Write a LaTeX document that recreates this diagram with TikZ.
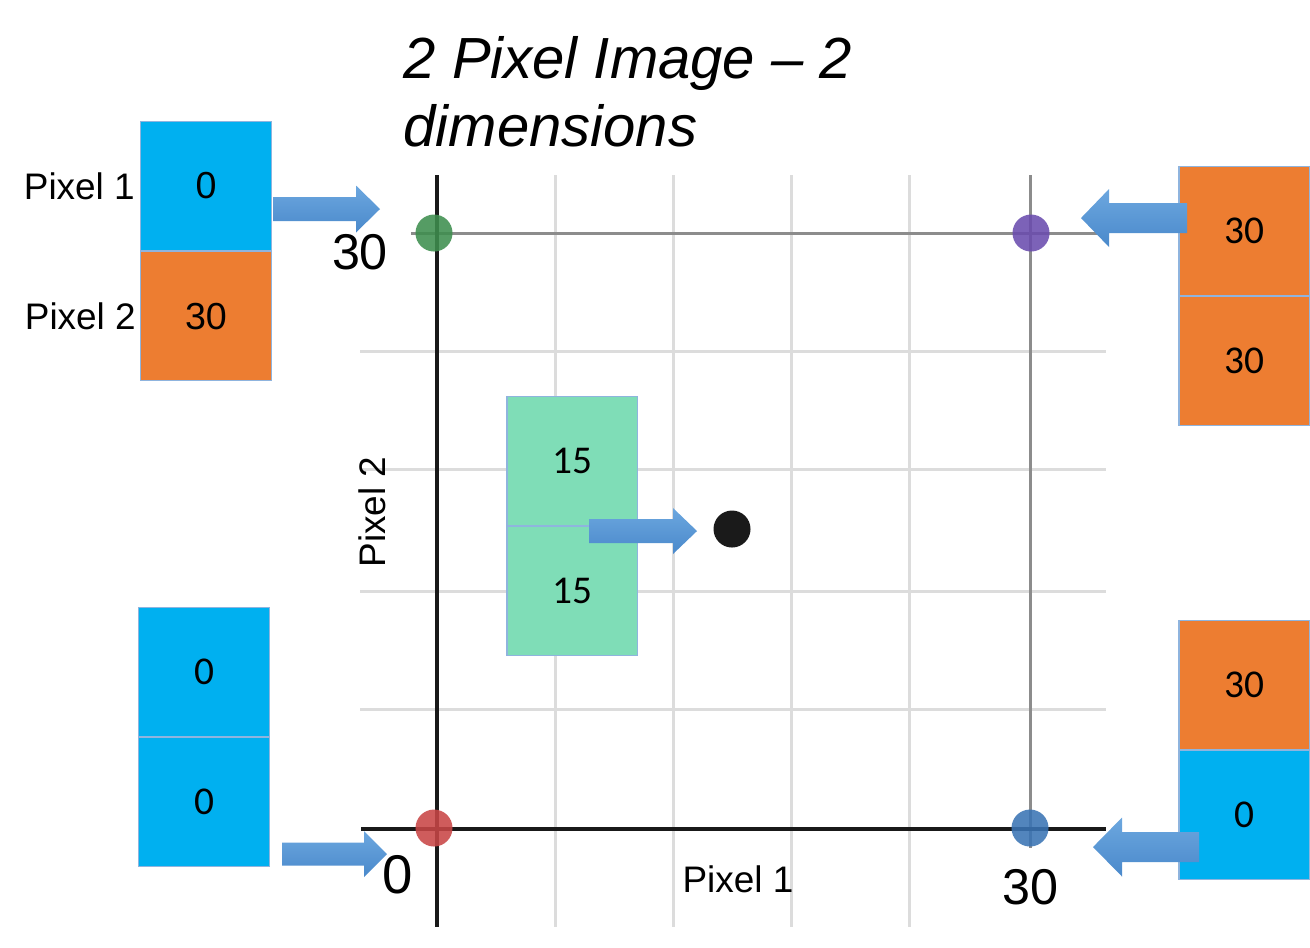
\documentclass[tikz,border=0pt]{standalone}
\usepackage{fontspec}
\setmainfont{Liberation Sans}
\newfontfamily\calibri{Carlito}
\usepackage{tikz}
\usetikzlibrary{positioning}
\definecolor{pxblue}{RGB}{0,176,240}
\definecolor{pxorange}{RGB}{237,125,49}
\definecolor{pxgreen}{RGB}{127,221,183}
\definecolor{boxedge}{RGB}{143,180,222}
\definecolor{arrowtop}{RGB}{108,167,223}
\definecolor{arrowbot}{RGB}{74,137,203}
\definecolor{dotgreen}{RGB}{62,142,78}
\definecolor{dotpurple}{RGB}{106,76,174}
\definecolor{dotred}{RGB}{200,70,70}
\definecolor{dotblue}{RGB}{58,116,180}
\definecolor{dotblack}{RGB}{26,26,26}
\definecolor{gridlight}{RGB}{220,220,220}
\definecolor{griddark}{RGB}{140,140,140}

\tikzset{
  pixbox/.style={draw=boxedge, line width=0.3pt, minimum width=1.3cm, minimum height=1.29cm,
    inner sep=0pt, font=\calibri\fontsize{11.2}{13}\selectfont},
  arialbox/.style={pixbox, font=\fontsize{10.7}{12}\selectfont},
  ptdot/.style={circle, minimum size=0.37cm, inner sep=0pt, opacity=0.88},
  sidelabel/.style={inner sep=0pt, font=\fontsize{10.5}{12}\selectfont},
  bigtick/.style={inner sep=0pt, font=\fontsize{14.3}{16}\selectfont},
  lightline/.style={gridlight, line width=0.85pt},
  darkline/.style={griddark, line width=0.85pt},
  axisline/.style={black!90, line width=1.4pt}
}

% #1 tail x, #2 tip x, #3 mid y, #4 shaft half width, #5 head half width, #6 head base x
\newcommand{\fatarrow}[6]{%
  \shade[top color=arrowtop, bottom color=arrowbot]
    (#1,#3-#4) -- (#6,#3-#4) -- (#6,#3-#5) -- (#2,#3) -- (#6,#3+#5) -- (#6,#3+#4) -- (#1,#3+#4) -- cycle;}

\begin{document}
\begin{tikzpicture}[x=0.01cm, y=-0.01cm]
    % Canvas, in pixels of the slide
    \useasboundingbox (0,0) rectangle (1310,947);

    % Title
    \node[anchor=north west, inner sep=0pt, align=left, font=\itshape\fontsize{16.5}{19.2}\selectfont]
        (title) at (403,36) {2 Pixel Image – 2\\dimensions};

    % Light grid
    \foreach \x in {555,673,791,909} \draw[lightline] (\x,175) -- (\x,927);
    \foreach \y in {351,469,591,709} \draw[lightline] (360,\y) -- (1106,\y);

    % Lines at 30
    \draw[darkline] (411,233) -- (1106,233);
    \draw[darkline] (1030,175) -- (1030,848);

    % Axes
    \draw[axisline] (437,175) -- (437,927);
    \draw[axisline] (361,829) -- (1106,829);

    % Corner points and the mid point
    \node[ptdot, fill=dotgreen]  (p01) at (434,233) {};
    \node[ptdot, fill=dotpurple] (p11) at (1031,233) {};
    \node[ptdot, fill=dotred]    (p00) at (434,828) {};
    \node[ptdot, fill=dotblue]   (p10) at (1030,828) {};
    \node[ptdot, fill=dotblack, opacity=1] (pmid) at (732,529) {};

    % Axis values and names
    \node[bigtick] (ytop) at (360,252) {30};
    \node[bigtick, font=\fontsize{15.5}{17}\selectfont] (orig) at (398,875) {0};
    \node[bigtick] (xright) at (1030,887) {30};
    \node[sidelabel] (xname) at (738,879) {Pixel 1};
    \node[sidelabel, rotate=90] (yname) at (372,512) {Pixel 2};

    % Image (0,30), top left
    \node[arialbox, fill=pxblue] (tl1) at (206,186) {0};
    \node[arialbox, fill=pxorange, below=0pt of tl1] (tl2) {30};
    \node[sidelabel, left=0.05cm of tl1] (pix1) {Pixel 1};
    \node[sidelabel, left=0.04cm of tl2] (pix2) {Pixel 2};

    % Image (30,30), top right
    \node[pixbox, fill=pxorange] (tr1) at (1244,231) {30};
    \node[pixbox, fill=pxorange, below=0pt of tr1] (tr2) {30};

    % Image (0,0), bottom left
    \node[pixbox, fill=pxblue] (bl1) at (204,672) {0};
    \node[pixbox, fill=pxblue, below=0pt of bl1] (bl2) {0};

    % Image (30,0), bottom right
    \node[pixbox, fill=pxorange] (br1) at (1244,685) {30};
    \node[pixbox, fill=pxblue, below=0pt of br1] (br2) {0};

    % Image (15,15), middle
    \node[pixbox, fill=pxgreen] (g1) at (572,461) {15};
    \node[pixbox, fill=pxgreen, below=0pt of g1] (g2) {15};

    % Block arrows
    \fatarrow{273}{380}{209}{12}{23.5}{356}
    \fatarrow{1187}{1081}{218}{15}{29}{1109}
    \fatarrow{589}{697}{531}{12}{23}{673}
    \fatarrow{282}{387}{854}{11.5}{23}{364}
    \fatarrow{1199}{1093}{847}{15}{29.5}{1122}
\end{tikzpicture}
\end{document}
